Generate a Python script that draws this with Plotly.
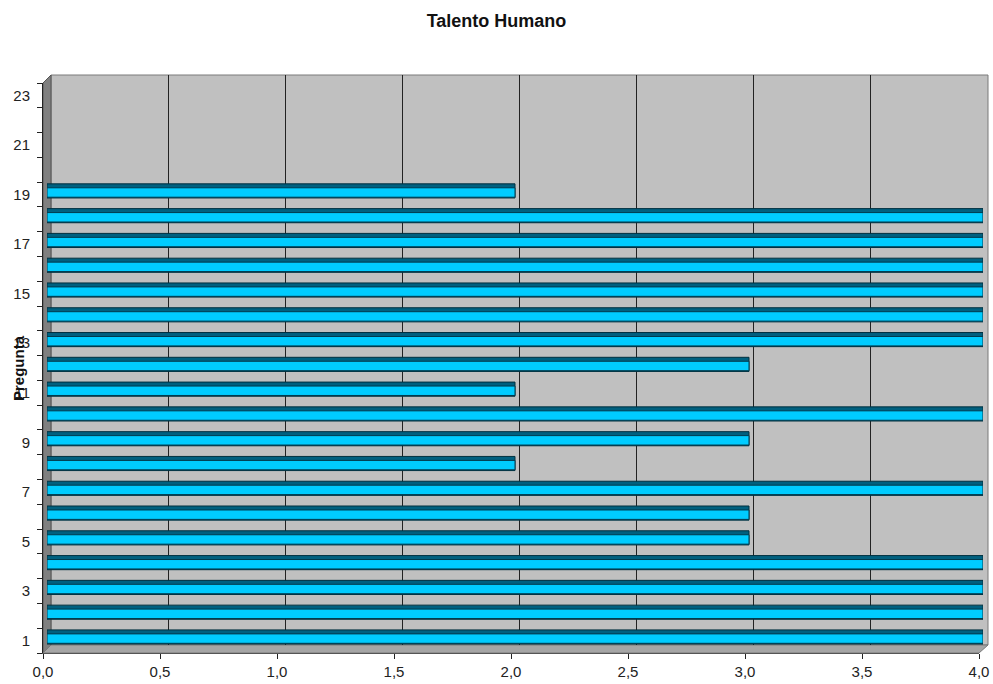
import plotly.graph_objects as go

# ---- data ----
preguntas = list(range(1, 20))
valores = [4, 4, 4, 4, 3, 3, 4, 2, 3, 4, 2, 3, 4, 4, 4, 4, 4, 4, 2]
x_ticks = [0, 0.5, 1, 1.5, 2, 2.5, 3, 3.5, 4]
x_ticktext = ["0,0", "0,5", "1,0", "1,5", "2,0", "2,5", "3,0", "3,5", "4,0"]
y_ticks = list(range(1, 24, 2))
y_bounds = [i + 0.5 for i in range(0, 24)]

W, H = 993, 684
L, R, T, B = 43, 5, 75, 31          # margins (plot area = whole 3D box)
PW, PH = W - L - R, H - T - B        # 945 x 578
D = 8                                # 3D depth in px


def px(xp):
    return (xp - L) / PW


def py(yp):
    return (H - B - yp) / PH


fig = go.Figure()

fig.add_trace(go.Bar(
    y=preguntas, x=valores, orientation="h",
    xaxis="x3", yaxis="y3",
    width=0.57, offset=-0.30,
    marker=dict(color="#00607f", line=dict(color="#00303f", width=1)),
    hoverinfo="skip", showlegend=False,
))
fig.add_trace(go.Bar(
    y=preguntas, x=valores, orientation="h",
    xaxis="x3", yaxis="y3",
    width=0.38, offset=-0.27,
    marker=dict(color="#00ccff", line=dict(color="#003a4d", width=1)),
    hoverinfo="skip", showlegend=False,
))
fig.add_trace(go.Scatter(x=[0], y=[1], mode="markers", marker=dict(opacity=0),
                         hoverinfo="skip", showlegend=False))
fig.add_trace(go.Scatter(x=[0], y=[1], xaxis="x2", yaxis="y2", mode="markers",
                         marker=dict(opacity=0), hoverinfo="skip", showlegend=False))

front_w = (979 - L) / PW
front_h = (653 - 83) / PH
mid = D / 2

shapes = [
    dict(type="rect", xref="x2 domain", yref="y2 domain", x0=0, x1=1, y0=0, y1=1,
         fillcolor="#c0c0c0", line=dict(color="#7a7a7a", width=1), layer="below"),
    dict(type="path", xref="paper", yref="paper",
         path=f"M {px(43)} {py(653)} L {px(43)} {py(83)} L {px(51)} {py(75)} L {px(51)} {py(645)} Z",
         fillcolor="#808080", line=dict(color="#555555", width=1), layer="below"),
    dict(type="path", xref="paper", yref="paper",
         path=f"M {px(43)} {py(653)} L {px(51)} {py(645)} L {px(988)} {py(645)} L {px(979)} {py(653)} Z",
         fillcolor="#a6a6a6", line=dict(color="#7a7a7a", width=1), layer="below"),
]

hidden = dict(showgrid=False, showticklabels=False, ticks="", zeroline=False,
              showline=False, automargin=False)

fig.update_layout(
    template="none",
    width=W, height=H,
    margin=dict(l=L, r=R, t=T, b=B, autoexpand=False),
    paper_bgcolor="white", plot_bgcolor="rgba(0,0,0,0)",
    barmode="overlay",
    font=dict(family="Liberation Sans, Arial, sans-serif", size=15, color="#222222"),
    title=dict(text="<b>Talento Humano</b>", x=0.5, xref="container", xanchor="center",
               y=1 - 21 / H, yref="container", yanchor="middle",
               font=dict(size=18, color="#111111")),
    xaxis=dict(domain=[0, front_w], range=[0, 4], tickmode="array", tickvals=x_ticks,
               ticktext=x_ticktext, ticks="outside", ticklen=5, tickcolor="#222222",
               showgrid=False, zeroline=False, showline=True, linecolor="#555555",
               anchor="y", automargin=False),
    yaxis=dict(domain=[0, front_h], range=[0.5, 23.5], tickmode="array", tickvals=y_ticks,
               ticks="outside", ticklen=9, tickcolor="rgba(0,0,0,0)",
               minor=dict(tickmode="array", tickvals=y_bounds, ticks="outside", ticklen=5,
                          tickcolor="#222222", showgrid=False),
               showgrid=False, zeroline=False, showline=True, linecolor="#222222",
               anchor="x", automargin=False),
    xaxis2=dict(domain=[D / PW, 1], range=[0, 4], dtick=0.5, tick0=0, showgrid=True,
                gridcolor="#222222", gridwidth=1, showticklabels=False, ticks="",
                zeroline=False, showline=False, anchor="y2", automargin=False),
    yaxis2=dict(domain=[D / PH, 1], range=[0.5, 23.5], anchor="x2", **hidden),
    xaxis3=dict(domain=[mid / PW, front_w + mid / PW], range=[0, 4], anchor="y3", **hidden),
    yaxis3=dict(domain=[mid / PH, front_h + mid / PH], range=[0.5, 23.5], anchor="x3", **hidden),
    shapes=shapes,
    annotations=[dict(text="<b>Pregunta</b>", textangle=-90, xref="paper", yref="paper",
                      x=px(18), y=py(368), xanchor="center", yanchor="middle",
                      showarrow=False, font=dict(size=15, color="#111111"))],
)

fig.write_html("out.html")
